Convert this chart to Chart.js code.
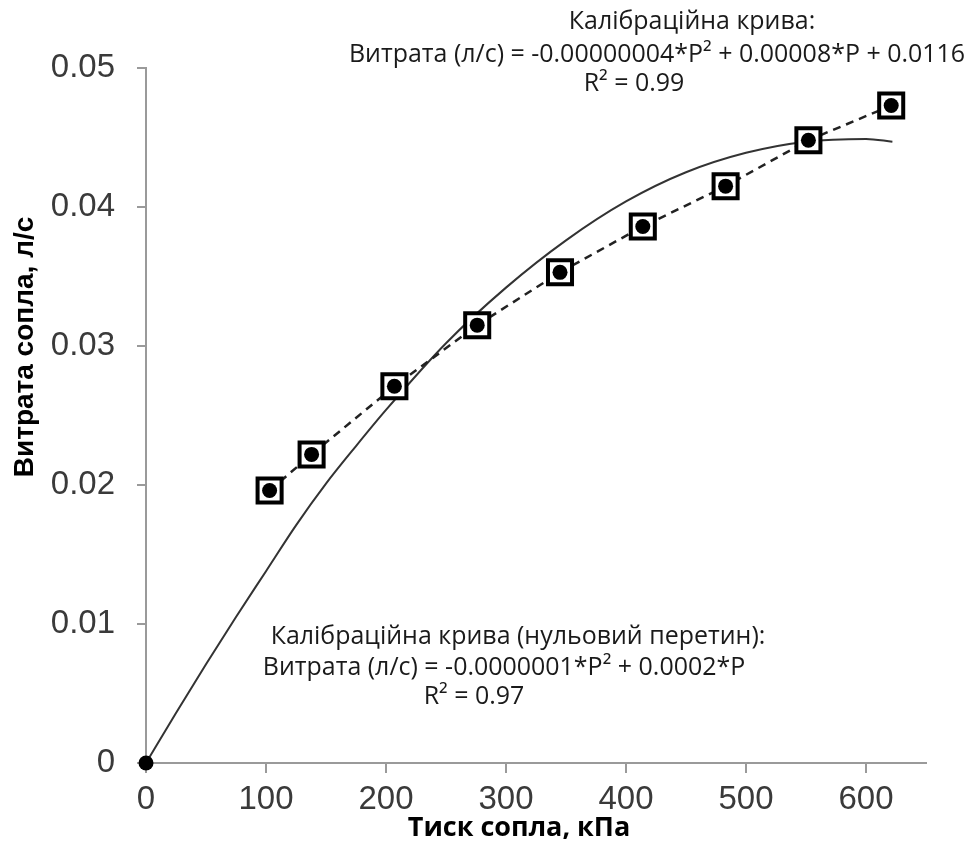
<!DOCTYPE html>
<html>
<head>
<meta charset="utf-8">
<script src="https://cdn.jsdelivr.net/npm/chart.js@4.4.1/dist/chart.umd.min.js"></script>
<style>
  html, body { margin: 0; padding: 0; background: #fff; }
  #wrap { width: 973px; height: 843px; }
</style>
</head>
<body>
<div id="wrap"><canvas id="chart" width="973" height="843"></canvas></div>
<script>
// measured points (kPa, l/s)
const pressure = [103, 138, 207, 276, 345, 414, 483, 552, 621];
const flow = [0.0196, 0.0222, 0.0271, 0.0315, 0.0353, 0.0386, 0.0415, 0.0448, 0.0473];

// origin point
const originP = [0];
const originFlow = [0];

// zero-intercept fitted curve
const curveP = [0, 25, 50, 75, 100, 125, 150, 175, 200, 250, 300, 350, 400, 450, 500, 550, 600, 622];
const curveFlow = [0, 0.0036, 0.0071, 0.0105, 0.0138, 0.0171, 0.0201, 0.0228, 0.0254, 0.0302, 0.0342, 0.0376, 0.0404, 0.0425, 0.0439, 0.0447, 0.0449, 0.0447];

const xTicks = [0, 100, 200, 300, 400, 500, 600];
const yTicks = [0, 0.01, 0.02, 0.03, 0.04, 0.05];

const xTitle = "Тиск сопла, кПа";
const yTitle = "Витрата сопла, л/с";

const notesTop = [
  "Калібраційна крива:",
  "Витрата (л/с) = -0.00000004*P² + 0.00008*P + 0.0116",
  "R² = 0.99"
];
const notesBottom = [
  "Калібраційна крива (нульовий перетин):",
  "Витрата (л/с) = -0.0000001*P² + 0.0002*P",
  "R² = 0.97"
];

const toXY = (xs, ys) => xs.map((x, i) => ({ x: x, y: ys[i] }));

// ============================
// text: titles + fit equations
// ============================
const textPlugin = {
  id: "texts",
  afterDraw(chart) {
    const ctx = chart.ctx;
    ctx.save();
    ctx.fillStyle = "#1a1a1a";
    ctx.textAlign = "center";
    ctx.textBaseline = "middle";

    const line = (txt, cx, cy, sx) => {
      ctx.save();
      ctx.translate(cx, cy);
      ctx.scale(sx, 1);
      ctx.fillText(txt, 0, 0);
      ctx.restore();
    };
    ctx.font = '26px "Open Sans"';
    line(notesTop[0], 692, 22, 0.96);
    line(notesTop[1], 657, 55, 0.96);
    line(notesTop[2], 634, 84, 0.96);
    line(notesBottom[0], 518, 637, 0.96);
    line(notesBottom[1], 504, 668, 0.96);
    line(notesBottom[2], 474, 697, 0.96);

    ctx.fillStyle = "#000";
    ctx.font = 'bold 27px "Open Sans"';
    ctx.fillText(xTitle, 519, 828);

    ctx.font = 'bold 28px "Liberation Sans"';
    ctx.translate(25, 347);
    ctx.rotate(-Math.PI / 2);
    ctx.fillText(yTitle, 0, 0);
    ctx.restore();
  }
};

new Chart(document.getElementById("chart"), {
  type: "scatter",
  data: {
    datasets: [
      {
        label: "curve",
        data: toXY(curveP, curveFlow),
        showLine: true,
        borderColor: "#333",
        borderWidth: 2,
        pointRadius: 0,
        cubicInterpolationMode: "monotone",
        clip: false,
        order: 3
      },
      {
        label: "measured",
        data: toXY(pressure, flow),
        showLine: true,
        borderColor: "#222",
        borderWidth: 2.5,
        borderDash: [8, 6],
        pointStyle: "rect",
        pointRadius: 17,
        pointBorderWidth: 4,
        pointBackgroundColor: "#fff",
        pointBorderColor: "#000",
        clip: false,
        order: 2
      },
      {
        label: "dots",
        data: toXY(pressure.concat(originP), flow.concat(originFlow)),
        pointStyle: "circle",
        pointRadius: 7.5,
        pointBorderWidth: 0,
        pointBackgroundColor: "#000",
        clip: false,
        order: 1
      }
    ]
  },
  options: {
    responsive: false,
    animation: false,
    events: [],
    layout: { padding: { top: 68, right: 47, left: 0, bottom: 0 } },
    plugins: {
      legend: { display: false },
      tooltip: { enabled: false }
    },
    scales: {
      x: {
        type: "linear",
        min: 0,
        max: 650,
        afterBuildTicks: s => { s.ticks = xTicks.map(v => ({ value: v })); },
        afterFit: s => { s.height = 80; },
        border: { display: true, color: "#9a9a9a", width: 2 },
        grid: { display: true, drawOnChartArea: false, drawTicks: true, tickLength: 10, color: "#9a9a9a", lineWidth: 2 },
        ticks: {
          color: "#3a3a3a",
          font: { family: "Liberation Sans", size: 33 },
          padding: 7,
          maxRotation: 0
        }
      },
      y: {
        type: "linear",
        min: 0,
        max: 0.05,
        afterBuildTicks: s => { s.ticks = yTicks.map(v => ({ value: v })); },
        afterFit: s => { s.width = 146; },
        border: { display: true, color: "#9a9a9a", width: 2 },
        grid: { display: true, drawOnChartArea: false, drawTicks: true, tickLength: 9, color: "#9a9a9a", lineWidth: 2 },
        ticks: {
          color: "#3a3a3a",
          font: { family: "Liberation Sans", size: 33 },
          padding: 22,
          callback: v => String(+v.toFixed(2))
        }
      }
    }
  },
  plugins: [textPlugin]
});
</script>
</body>
</html>
